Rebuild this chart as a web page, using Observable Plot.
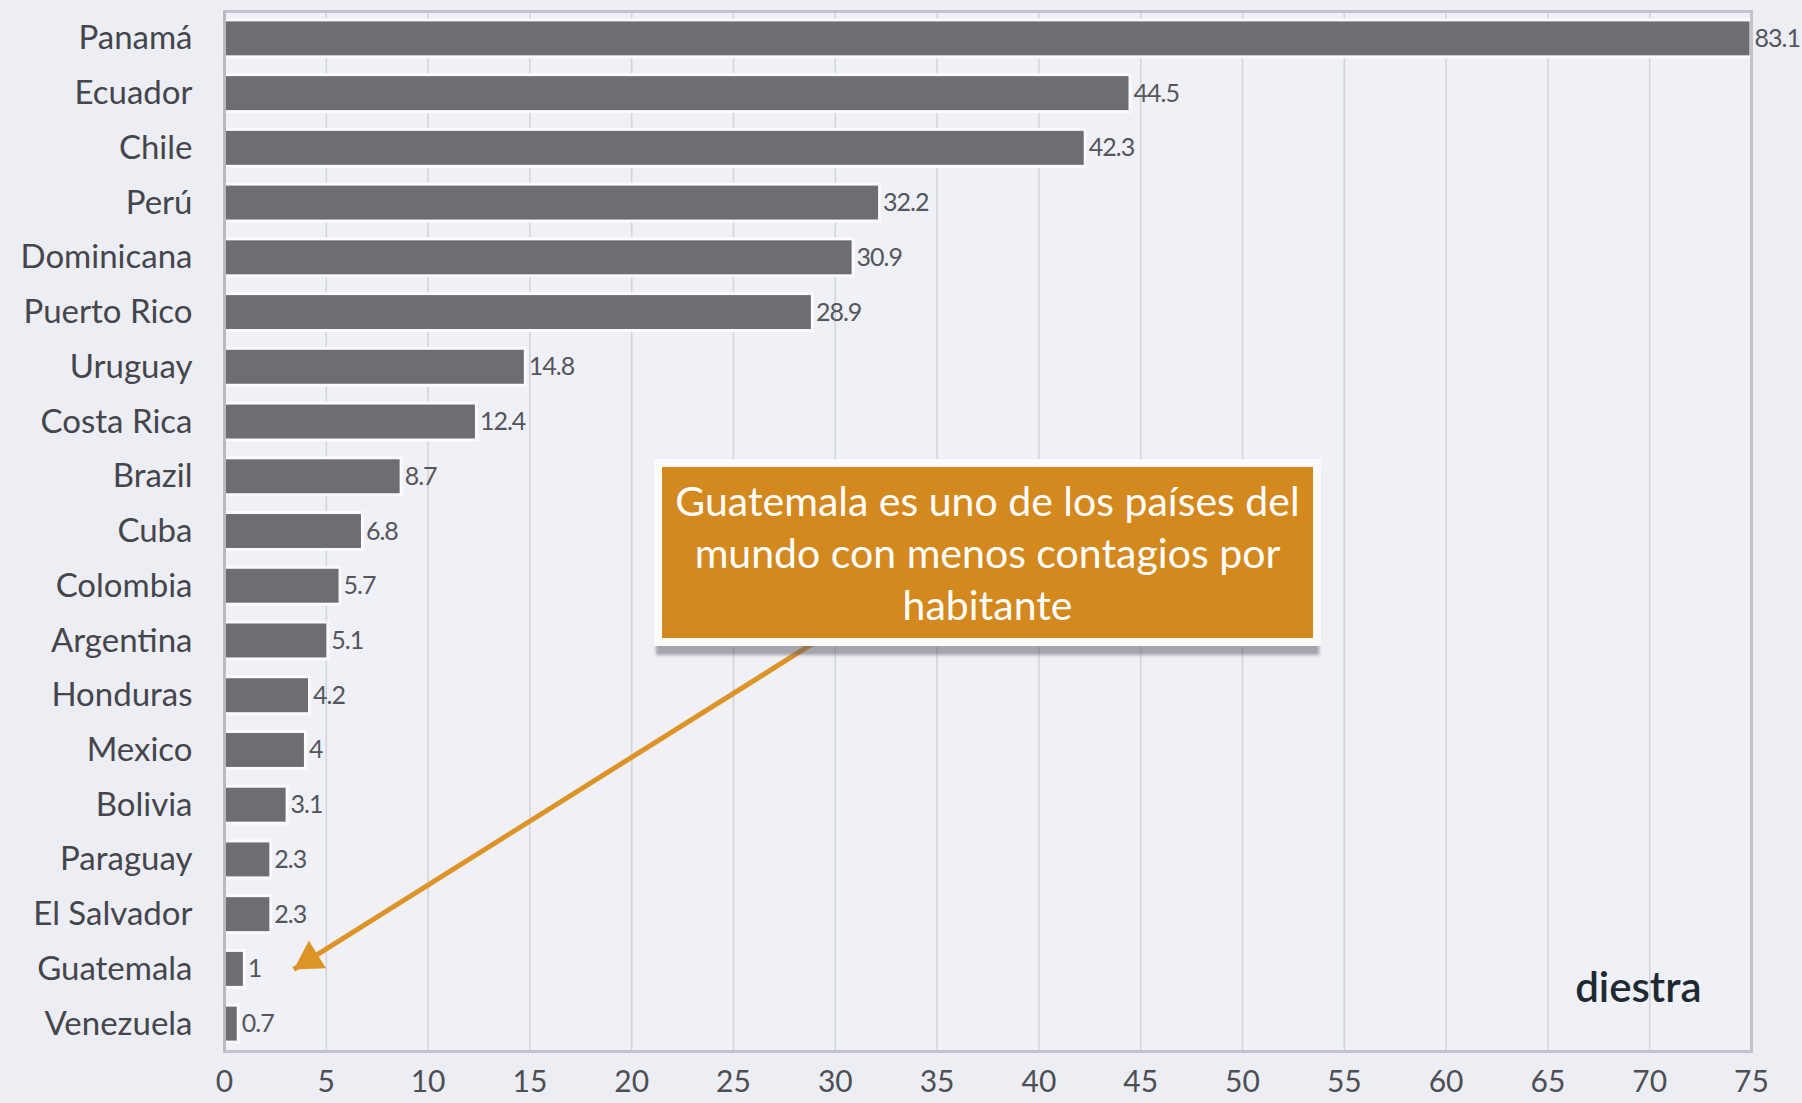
<!DOCTYPE html>
<html>
<head>
<meta charset="utf-8">
<script src="https://cdn.jsdelivr.net/npm/d3@7"></script>
<script src="https://cdn.jsdelivr.net/npm/@observablehq/plot@0.6"></script>
<style>
  html, body { margin: 0; padding: 0; background: #eceef4; }
  #wrap { position: relative; width: 1802px; height: 1103px; overflow: hidden; font-family: Lato, "Open Sans", sans-serif; }
  #note {
    position: absolute; box-sizing: border-box;
    background: #d4891f; color: #fff;
    border: 8px solid #fbfbfc;
    box-shadow: 0 11px 3px -2px rgba(90,90,100,0.5);
    font-family: Lato, sans-serif; font-size: 41px; line-height: 52px;
    text-align: center; display: flex; align-items: center; justify-content: center;
    white-space: nowrap;
  }
</style>
</head>
<body>
<div id="wrap"></div>
<script>
const countries = ["Panamá","Ecuador","Chile","Perú","Dominicana","Puerto Rico","Uruguay","Costa Rica","Brazil","Cuba","Colombia","Argentina","Honduras","Mexico","Bolivia","Paraguay","El Salvador","Guatemala","Venezuela"];
const values = [83.1, 44.5, 42.3, 32.2, 30.9, 28.9, 14.8, 12.4, 8.7, 6.8, 5.7, 5.1, 4.2, 4, 3.1, 2.3, 2.3, 1, 0.7];
const labels = ["83.1","44.5","42.3","32.2","30.9","28.9","14.8","12.4","8.7","6.8","5.7","5.1","4.2","4","3.1","2.3","2.3","1","0.7"];
const xTicks = [0,5,10,15,20,25,30,35,40,45,50,55,60,65,70,75];
const noteText = ["Guatemala es uno de los países del", "mundo con menos contagios por", "habitante"];
const arrowFrom = {x: 29.1, y: "Argentina"};
const arrowTo = {x: 3.4, y: "Guatemala"};
const logoText = "diestra";

const data = countries.map((c, i) => ({country: c, value: values[i], label: labels[i]}));
const xMax = 75;

const layout = {
  width: 1802,
  height: 1103,
  marginTop: 11,
  marginBottom: 52,
  marginLeft: 224,
  marginRight: 51,
  style: {background: "transparent", fontFamily: "Lato, 'Open Sans', sans-serif"},
  x: {domain: [0, xMax], ticks: xTicks, axis: null},
  y: {domain: countries, paddingInner: 0.325, paddingOuter: 0.1625, round: false, axis: null}
};

// first pass: read the scales to orient the arrowhead
const probe = Plot.plot({...layout, marks: [Plot.frame()]});
const pxs = probe.scale("x"), pys = probe.scale("y");
const pbw = pys.bandwidth || 0;
const fx = pxs.apply(arrowFrom.x), fy = pys.apply(arrowFrom.y) + pbw / 2;
const tx = pxs.apply(arrowTo.x), ty = pys.apply(arrowTo.y) + pbw / 2;
const theta = Math.atan2(ty - fy, tx - fx);
const headR = 12;
const tipDist = 2 * Math.sqrt(headR * headR * Math.PI / (Math.sqrt(3) * 3));
const headRotate = theta * 180 / Math.PI + 90;
const headDx = -Math.cos(theta) * tipDist, headDy = -Math.sin(theta) * tipDist;

const plot = Plot.plot({
  ...layout,
  marks: [
    Plot.frame({fill: "#eff1f6", stroke: "none"}),
    Plot.gridX(xTicks, {stroke: "#d2d3db", strokeOpacity: 1, strokeWidth: 1.5}),
    Plot.barX(data, {y: "country", x: d => Math.min(d.value, xMax), fill: "#6d6e73", stroke: "#fbfbfd", strokeWidth: 3}),
    Plot.frame({stroke: "#c2c3cb", strokeWidth: 3}),
    Plot.ruleX([0], {stroke: "#b9b9c2", strokeWidth: 3}),
    Plot.axisX(xTicks, {anchor: "bottom", tickSize: 0, tickPadding: 19, fontSize: 30, fill: "#4e4e55", tickFormat: d => String(d), label: null}),
    Plot.axisY({anchor: "left", tickSize: 0, tickPadding: 32, fontSize: 33, fill: "#45454c", label: null}),
    Plot.text(data, {y: "country", x: d => Math.min(d.value, xMax), text: "label", dx: 3, textAnchor: "start", fontSize: 25, fill: "#55555c", className: "vlabels"}),
    Plot.link([{}], {x1: () => arrowFrom.x, y1: () => arrowFrom.y, x2: () => arrowTo.x, y2: () => arrowTo.y, stroke: "#de9327", strokeWidth: 5, strokeLinecap: "butt"}),
    Plot.dot([{}], {x: () => arrowTo.x, y: () => arrowTo.y, symbol: d3.symbolTriangle, r: headR, rotate: headRotate, dx: headDx, dy: headDy, fill: "#de9327", stroke: "none"}),
    Plot.text([logoText], {text: d => d, frameAnchor: "bottom-right", dx: -50, dy: -63, textAnchor: "end", lineAnchor: "middle", fontSize: 42, fontWeight: 600, fill: "#1e2a33"})
  ]
});

// slightly condensed value labels, like the reference
d3.select(plot).selectAll("g[aria-label='text']").filter((d, i) => i === 0).style("letter-spacing", "-1px");

const wrap = document.getElementById("wrap");
wrap.appendChild(plot);

// annotation box positioned from the chart's own scales
const xs = plot.scale("x"), ys = plot.scale("y");
const bw = ys.bandwidth || 0;
const yc = c => ys.apply(c) + bw / 2;
const noteLeft = xs.apply(21.1), noteRight = xs.apply(53.9);
const noteTop = yc("Brazil") - 17, noteBottom = yc("Argentina") + 6;
const note = document.createElement("div");
note.id = "note";
note.style.left = noteLeft + "px";
note.style.top = noteTop + "px";
note.style.width = (noteRight - noteLeft) + "px";
note.style.height = (noteBottom - noteTop) + "px";
note.innerHTML = noteText.join("<br>");
wrap.appendChild(note);
</script>
</body>
</html>
